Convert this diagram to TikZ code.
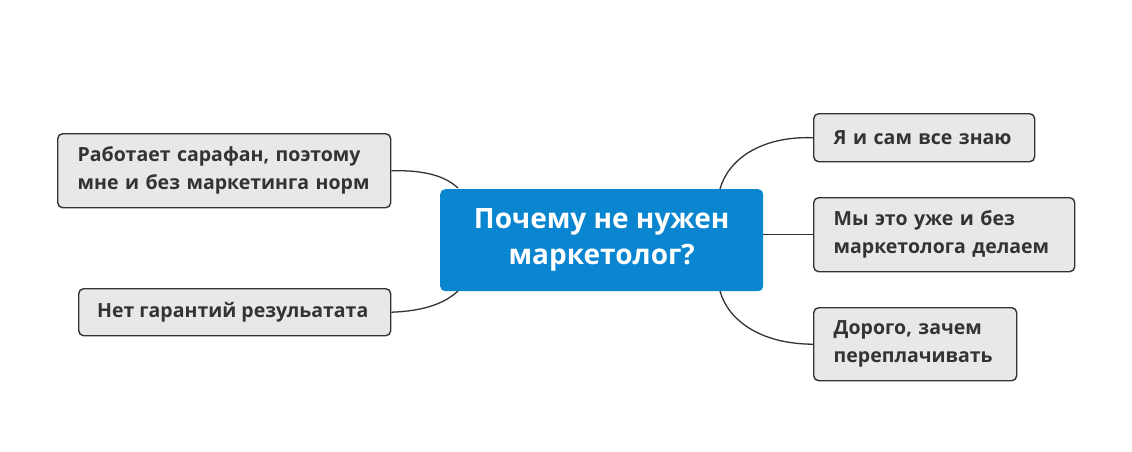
\documentclass[tikz,border=0pt]{standalone}
\usepackage{fontspec}
\setmainfont{Open Sans}
\definecolor{mainblue}{HTML}{0A85D0}
\definecolor{boxfill}{HTML}{E8E8E8}
\definecolor{boxline}{HTML}{333333}
\definecolor{txt}{HTML}{333333}
\begin{document}
\begin{tikzpicture}[x=1pt,y=-1pt,
  topic/.style={draw=boxline,line width=1.4pt,fill=boxfill,rounded corners=5pt,anchor=north west,inner sep=0pt,text=txt,font=\fontsize{19.5}{28}\selectfont\bfseries,align=left},
  central/.style={fill=mainblue,rounded corners=5pt,anchor=north west,inner sep=0pt,text=white,font=\fontsize{28}{36}\selectfont\bfseries,align=center},
  link/.style={draw=boxline,line width=1.3pt}]
\useasboundingbox (0,0) rectangle (1132,451);
\node[central,minimum width=323pt,minimum height=102pt] (c) at (440,189) {Почему не нужен\\маркетолог?};
\node[topic,minimum width=333pt,minimum height=74pt,text width=293pt] (l1) at (57,133) {Работает сарафан, поэтому\\мне и без маркетинга норм};
\node[topic,minimum width=312pt,minimum height=47pt] (l2) at (78,288) {Нет гарантий резульатата\hspace*{4pt}};
\node[topic,minimum width=221pt,minimum height=48pt,text width=181pt] (r1) at (813,113) {Я и сам все знаю};
\node[topic,minimum width=261pt,minimum height=74pt,text width=221pt] (r2) at (813,197) {Мы это уже и без\\маркетолога делаем};
\node[topic,minimum width=203pt,minimum height=73pt,text width=163pt] (r3) at (813,307) {Дорого, зачем\\переплачивать};
\coordinate (cl1) at (458,188);
\coordinate (cl2) at (458,291);
\coordinate (cr1) at (720,189);
\coordinate (cr3) at (720,291);
\draw[link] (l1.east) .. controls (425,170) and (445,176) .. (cl1);
\draw[link] (l2.east) .. controls (425,311) and (445,303) .. (cl2);
\draw[link] (r1.west) .. controls (760,136) and (728,160) .. (cr1);
\draw[link] (c.east |- r2.west) -- (r2.west);
\draw[link] (r3.west) .. controls (760,344) and (728,320) .. (cr3);
\end{tikzpicture}
\end{document}
